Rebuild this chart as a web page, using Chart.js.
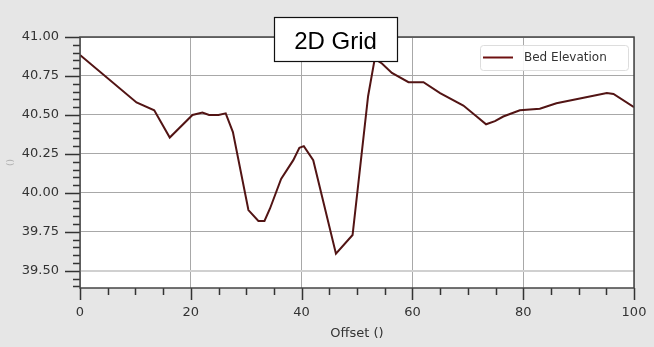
<!DOCTYPE html>
<html>
<head>
<meta charset="utf-8">
<script src="https://cdn.jsdelivr.net/npm/chart.js@4/dist/chart.umd.min.js"></script>
<style>
  html, body { margin: 0; padding: 0; background: #e6e6e6; }
  #wrap { width: 654px; height: 347px; }
</style>
</head>
<body>
<div id="wrap"><canvas id="bedChart" width="654" height="347"></canvas></div>
<script>
// data
const offsets = [0, 10.2, 13.4, 16.2, 20.3, 22.1, 23.3, 25, 26.3, 27.6, 30.4, 32.2, 33.3, 34.3,
  36.3, 38.5, 39.6, 40.4, 42.1, 46.2, 49.2, 52.0, 53.2, 54.5, 56.3, 59.3, 62.0, 65.0, 69.2,
  71.6, 73.3, 74.9, 76.4, 79.4, 83.0, 86.0, 90.9, 95.1, 96.3, 100];
const bedElevation = [40.885, 40.58, 40.53, 40.355, 40.50, 40.515, 40.50, 40.50, 40.51, 40.39,
  39.89, 39.82, 39.82, 39.90, 40.09, 40.21, 40.29, 40.30, 40.21, 39.61, 39.73, 40.62, 40.86,
  40.83, 40.77, 40.71, 40.71, 40.64, 40.56, 40.49, 40.44, 40.46, 40.49, 40.53, 40.54, 40.575,
  40.61, 40.64, 40.635, 40.55];
const xTicks = [0, 20, 40, 60, 80, 100];
const yTicks = [39.50, 39.75, 40.00, 40.25, 40.50, 40.75, 41.00];
const seriesLabel = 'Bed Elevation';
const chartTitle = '2D Grid';

const lineColor = '#521414';
const tickFont = { family: 'DejaVu Sans', size: 13 };

// minor/major ticks drawn outside the plot, plus frame, legend and title box
const decorations = {
  id: 'decorations',
  afterDraw(chart) {
    const ctx = chart.ctx;
    const a = chart.chartArea;
    const xs = chart.scales.x, ys = chart.scales.y;
    ctx.save();
    ctx.strokeStyle = '#333';
    ctx.lineWidth = 1.5;
    ctx.beginPath();
    for (let v = 0; v <= 100.001; v += 5) {
      const px = Math.round(xs.getPixelForValue(v)) + 0.5;
      const major = Math.abs(v % 20) < 0.001;
      ctx.moveTo(px, a.bottom);
      ctx.lineTo(px, a.bottom + (major ? 12 : 7));
    }
    for (let v = 39.40; v <= 41.0001; v += 0.05) {
      const py = Math.round(ys.getPixelForValue(v)) + 0.5;
      const major = yTicks.some(t => Math.abs(t - v) < 0.001);
      ctx.moveTo(a.left, py);
      ctx.lineTo(a.left - (major ? 15 : 7), py);
    }
    ctx.stroke();

    // frame
    ctx.strokeStyle = '#444';
    ctx.lineWidth = 1.5;
    ctx.strokeRect(a.left, a.top, a.right - a.left, a.bottom - a.top);

    // legend
    const lx = 480, ly = 45, lw = 148, lh = 25;
    ctx.fillStyle = 'rgba(255,255,255,0.9)';
    ctx.strokeStyle = '#dddddd';
    ctx.lineWidth = 1;
    ctx.beginPath();
    ctx.roundRect(lx + 0.5, ly + 0.5, lw, lh, 3);
    ctx.fill();
    ctx.stroke();
    const ds = chart.data.datasets[0];
    ctx.strokeStyle = '#6e1010';
    ctx.lineWidth = 2;
    ctx.beginPath();
    ctx.moveTo(lx + 3, ly + 12.5);
    ctx.lineTo(lx + 33, ly + 12.5);
    ctx.stroke();
    ctx.fillStyle = '#333';
    ctx.font = '12px "DejaVu Sans"';
    ctx.textBaseline = 'middle';
    ctx.textAlign = 'left';
    ctx.fillText(ds.label, lx + 44, ly + 12.5);

    // title box
    const bx = 274, by = 17, bw = 123, bh = 44;
    ctx.fillStyle = '#ffffff';
    ctx.fillRect(bx, by, bw, bh);
    ctx.strokeStyle = '#111';
    ctx.lineWidth = 1.2;
    ctx.strokeRect(bx + 0.5, by + 0.5, bw, bh);
    ctx.fillStyle = '#000';
    ctx.font = '24px "Liberation Sans"';
    ctx.textAlign = 'center';
    ctx.textBaseline = 'middle';
    ctx.fillText(chartTitle, bx + bw / 2, by + 25);
    ctx.restore();
  }
};

const plotBackground = {
  id: 'plotBackground',
  beforeDraw(chart) {
    const ctx = chart.ctx, a = chart.chartArea;
    ctx.save();
    ctx.fillStyle = '#e6e6e6';
    ctx.fillRect(0, 0, chart.width, chart.height);
    ctx.fillStyle = '#ffffff';
    ctx.fillRect(a.left, a.top, a.right - a.left, a.bottom - a.top);
    ctx.restore();
  }
};

new Chart(document.getElementById('bedChart'), {
  type: 'line',
  data: {
    datasets: [{
      label: seriesLabel,
      data: offsets.map((x, i) => ({ x: x, y: bedElevation[i] })),
      borderColor: lineColor,
      borderWidth: 2,
      pointRadius: 0,
      tension: 0,
      fill: false
    }]
  },
  options: {
    responsive: false,
    animation: false,
    events: [],
    layout: { padding: { top: 37, right: 20, left: 0, bottom: 0 } },
    plugins: {
      legend: { display: false },
      tooltip: { enabled: false }
    },
    scales: {
      x: {
        type: 'linear',
        min: 0,
        max: 100,
        afterBuildTicks: s => { s.ticks = xTicks.map(v => ({ value: v })); },
        afterFit: s => {
          s.height = 59;
          s.paddingLeft = 0;
          s.paddingRight = 0;
        },
        grid: { color: '#a8a8a8', lineWidth: 1, drawTicks: false },
        border: { display: false },
        ticks: { font: tickFont, color: '#333', padding: 17, maxRotation: 0 },
        title: {
          display: true,
          text: 'Offset ()',
          font: tickFont,
          color: '#333',
          padding: { top: 0, bottom: 6 }
        }
      },
      y: {
        type: 'linear',
        min: 39.39,
        max: 41.0,
        afterBuildTicks: s => { s.ticks = yTicks.map(v => ({ value: v })); },
        afterFit: s => {
          s.width = 80;
          s.paddingTop = 0;
          s.paddingBottom = 0;
        },
        grid: {
          color: c => (c.tick && Math.abs(c.tick.value - 39.5) < 0.001) ? '#d0d0d0' : '#a8a8a8',
          lineWidth: c => (c.tick && Math.abs(c.tick.value - 39.5) < 0.001) ? 2 : 1,
          drawTicks: false
        },
        border: { display: false },
        ticks: {
          font: tickFont,
          color: '#333',
          padding: 21,
          callback: v => Number(v).toFixed(2)
        },
        title: {
          display: true,
          text: '()',
          font: { family: 'DejaVu Sans', size: 9 },
          color: '#b0b0b0',
          padding: { top: 5, bottom: 0 }
        }
      }
    }
  },
  plugins: [plotBackground, decorations]
});
</script>
</body>
</html>
